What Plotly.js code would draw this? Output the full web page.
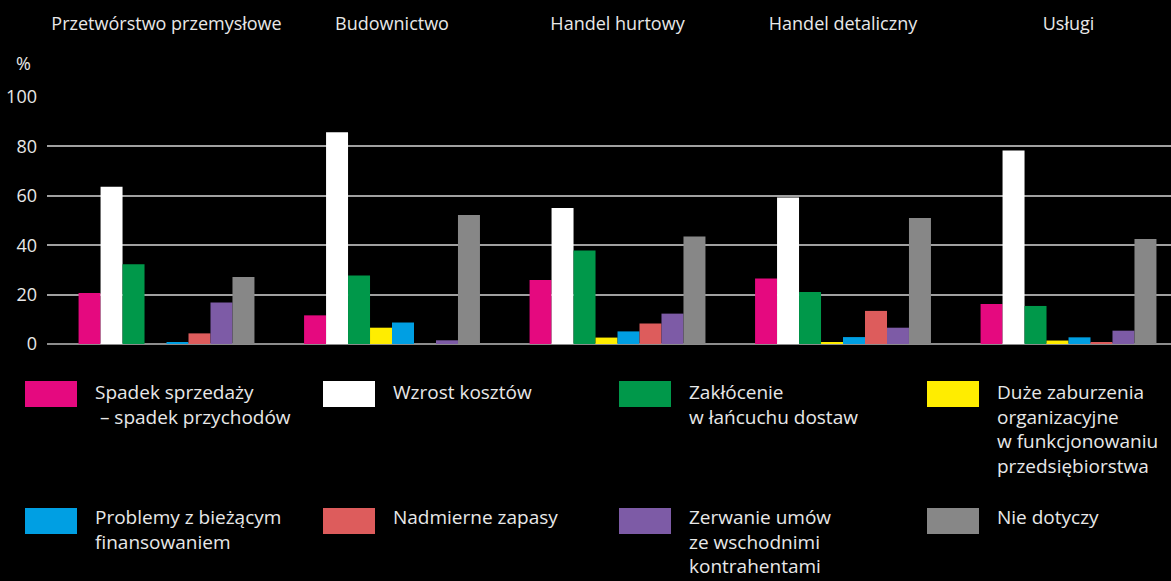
<!DOCTYPE html>
<html>
<head>
<meta charset="utf-8">
<script src="https://cdn.plot.ly/plotly-3.0.1.min.js"></script>
<style>
html,body{margin:0;padding:0;background:#000;}
#chart{width:1171px;height:581px;}
</style>
</head>
<body>
<div id="chart"></div>
<script>
// ---- data ----
var categories = ["Przetwórstwo przemysłowe", "Budownictwo", "Handel hurtowy", "Handel detaliczny", "Usługi"];
var seriesNames = [
  "Spadek sprzedaży<br> – spadek przychodów",
  "Wzrost kosztów",
  "Zakłócenie<br>w łańcuchu dostaw",
  "Duże zaburzenia<br>organizacyjne<br>w funkcjonowaniu<br>przedsiębiorstwa",
  "Problemy z bieżącym<br>finansowaniem",
  "Nadmierne zapasy",
  "Zerwanie umów<br>ze wschodnimi<br>kontrahentami",
  "Nie dotyczy"
];
var spadekSprzedazy   = [20.6, 11.6, 25.9, 26.5, 16.2];
var wzrostKosztow     = [63.7, 85.7, 55.1, 59.3, 78.3];
var zaklocenieDostaw  = [32.3, 27.7, 37.9, 21.1, 15.4];
var zaburzeniaOrg     = [0.0, 6.6, 2.6, 0.7, 1.4];
var problemyFinans    = [0.7, 8.7, 5.1, 2.8, 2.7];
var nadmierneZapasy   = [4.3, 0.0, 8.3, 13.4, 0.7];
var zerwanieUmow      = [16.8, 1.5, 12.3, 6.6, 5.4];
var nieDotyczy        = [27.1, 52.2, 43.5, 51.0, 42.5];
var yTicks = [0, 20, 40, 60, 80, 100];

// ---- styling ----
var seriesValues = [spadekSprzedazy, wzrostKosztow, zaklocenieDostaw, zaburzeniaOrg,
                    problemyFinans, nadmierneZapasy, zerwanieUmow, nieDotyczy];
var colors = ["#e5097f", "#ffffff", "#00984a", "#ffed00", "#009fe3", "#dd5c5c", "#7d5ba6", "#878787"];
var FONT = "'Open Sans', 'Noto Sans', sans-serif";
var TXT = "#e8e8e8";

var W = 1171, H = 581;
var M = {l: 47, r: 0, t: 97, b: 237};
var pw = W - M.l - M.r, ph = H - M.t - M.b;
function px(x) { return (x - M.l) / pw; }
function py(y) { return (H - M.b - y) / ph; }

var traces = seriesValues.map(function (vals, i) {
  return {
    type: "bar",
    name: seriesNames[i],
    x: categories,
    y: vals,
    marker: {color: colors[i], line: {width: 0}},
    showlegend: false,
    hoverinfo: "x+y"
  };
});

// legend grid (4 columns x 2 rows) laid out from the series list
var colSwatchX = [25, 323, 619, 927];
var rowY = [381, 508];
var rowTextOffset = [-3, -5];
var swW = 52, swH = 26, textGap = 17;
var shapes = [], annotations = [];
seriesNames.forEach(function (name, i) {
  var c = i % 4, r = Math.floor(i / 4);
  var x0 = colSwatchX[c], y0 = rowY[r];
  shapes.push({
    type: "rect", xref: "paper", yref: "paper",
    x0: px(x0), x1: px(x0 + swW), y0: py(y0), y1: py(y0 + swH),
    fillcolor: colors[i], line: {width: 0}, layer: "above"
  });
  annotations.push({
    xref: "paper", yref: "paper",
    x: px(x0 + swW + textGap), y: py(y0 + rowTextOffset[r]),
    xanchor: "left", yanchor: "top", align: "left",
    showarrow: false, text: name, borderpad: 0,
    font: {family: FONT, size: 19, color: TXT}
  });
});
annotations.push({
  xref: "paper", yref: "paper", x: px(23), y: py(63),
  xanchor: "center", yanchor: "middle", showarrow: false, text: "%",
  font: {family: FONT, size: 18, color: TXT}
});

var layout = {
  width: W, height: H,
  margin: M,
  paper_bgcolor: "#000000",
  plot_bgcolor: "#000000",
  barmode: "group",
  bargap: 0.22,
  bargroupgap: 0,
  showlegend: false,
  xaxis: {
    type: "category",
    range: [-0.53, 4.4545],
    side: "top",
    showgrid: false,
    showline: false,
    ticks: "",
    tickfont: {family: FONT, size: 18, color: TXT},
    ticklabelstandoff: 62,
    fixedrange: true
  },
  yaxis: {
    range: [0, 100],
    tickvals: yTicks,
    ticktext: yTicks.map(String),
    showgrid: true,
    gridcolor: "#a0a0a0",
    gridwidth: 1.5,
    zeroline: true,
    zerolinecolor: "#8c8c8c",
    zerolinewidth: 2,
    showline: false,
    ticks: "",
    ticklabelstandoff: 9,
    tickfont: {family: FONT, size: 18, color: TXT},
    fixedrange: true
  },
  shapes: shapes,
  annotations: annotations
};

Plotly.newPlot("chart", traces, layout, {displayModeBar: false, responsive: false});
</script>
</body>
</html>
